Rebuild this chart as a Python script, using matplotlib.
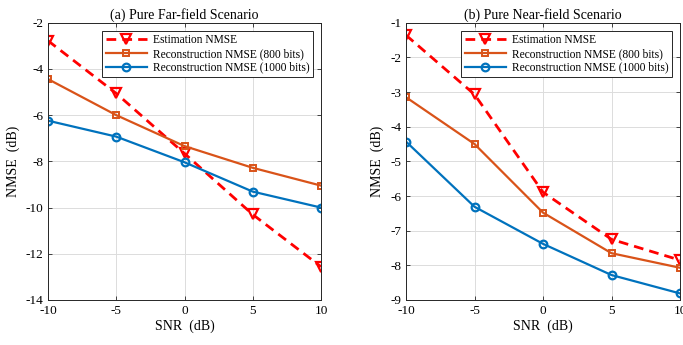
import numpy as np
import matplotlib
matplotlib.use('Agg')
import matplotlib.pyplot as plt

plt.rcParams['font.family'] = ['Liberation Serif', 'DejaVu Serif']
plt.rcParams['axes.unicode_minus'] = False

snr = [-10, -5, 0, 5, 10]

# (a) far-field
far_est = [-2.78, -5.06, -7.66, -10.3, -12.56]
far_800 = [-4.44, -6.0, -7.34, -8.28, -9.05]
far_1000 = [-6.24, -6.93, -8.04, -9.31, -10.0]

# (b) near-field
near_est = [-1.36, -3.07, -5.89, -7.25, -7.85]
near_800 = [-3.15, -4.5, -6.48, -7.65, -8.07]
near_1000 = [-4.43, -6.31, -7.38, -8.28, -8.81]

titles = ['(a) Pure Far-field Scenario', '(b) Pure Near-field Scenario']
labels = ['Estimation NMSE', 'Reconstruction NMSE (800 bits)',
          'Reconstruction NMSE (1000 bits)']

c_red = '#ff0000'
c_org = '#d95319'
c_blu = '#0072bd'

fig = plt.figure(figsize=(6.83, 3.45), dpi=100)
ax1 = fig.add_axes([48 / 683, 1 - 300 / 345, 273 / 683, 277.3 / 345])
ax2 = fig.add_axes([406 / 683, 1 - 300 / 345, 274 / 683, 277.3 / 345])


def draw(ax, est, r800, r1000, title, ylim, yticks):
    ax.plot(snr, est, '--', color=c_red, lw=2.0, marker='v', ms=7,
            mfc='none', mew=1.6, dashes=(3.5, 2.2), label=labels[0])
    ax.plot(snr, r800, '-', color=c_org, lw=1.6, marker='s', ms=5,
            mfc='none', mew=1.4, label=labels[1])
    ax.plot(snr, r1000, '-', color=c_blu, lw=1.6, marker='o', ms=5.5,
            mfc='none', mew=1.6, label=labels[2])
    ax.set_xlim(-10, 10)
    ax.set_ylim(*ylim)
    ax.set_xticks([-10, -5, 0, 5, 10])
    ax.set_yticks(yticks)
    ax.grid(True, color='#dcdcdc', lw=0.7)
    ax.set_axisbelow(True)
    ax.tick_params(direction='in', length=3, labelsize=9.5, top=True, right=True,
                   colors='#262626', labelcolor='black', width=0.6)
    for s in ax.spines.values():
        s.set_linewidth(0.7)
        s.set_color('#262626')
    ax.set_xlabel('SNR  (dB)', fontsize=10, labelpad=2)
    ax.set_ylabel('NMSE  (dB)', fontsize=10, labelpad=4)
    ax.set_title(title, fontsize=10, pad=3)
    leg = ax.legend(loc='upper right', fontsize=8.3, handlelength=3.6,
                    handletextpad=0.5, borderpad=0.3, labelspacing=0.15,
                    fancybox=False, framealpha=1, edgecolor='#262626',
                    borderaxespad=0.7)
    leg.get_frame().set_linewidth(0.7)


draw(ax1, far_est, far_800, far_1000, titles[0], (-14, -2),
     np.arange(-14, -1, 2))
draw(ax2, near_est, near_800, near_1000, titles[1], (-9, -1),
     np.arange(-9, 0, 1))

fig.savefig('out.png', dpi=100)
